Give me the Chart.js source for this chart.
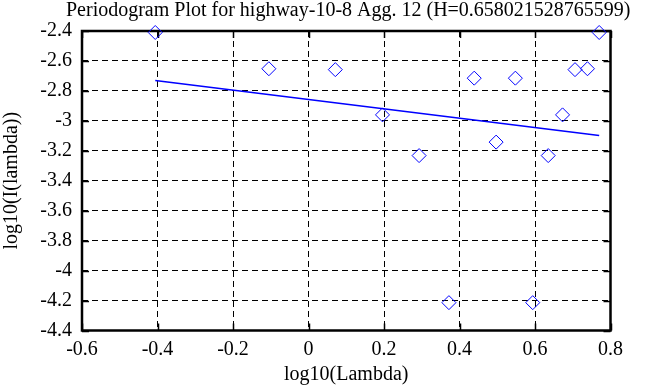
<!DOCTYPE html>
<html>
<head>
<meta charset="utf-8">
<script src="https://cdn.jsdelivr.net/npm/chart.js@4"></script>
<style>
  html, body { margin: 0; padding: 0; background: #fff; }
  #wrap { width: 668px; height: 387px; }
</style>
</head>
<body>
<div id="wrap"><canvas id="chart" width="668" height="387"></canvas></div>
<script>
// Periodogram punten (log10 frequentie, log10 intensiteit)
const logLambda = [-0.406, -0.105, 0.071, 0.196, 0.293, 0.372, 0.439, 0.497, 0.548, 0.594, 0.635, 0.673, 0.706, 0.739, 0.770];
const logPower = [-2.41, -2.652, -2.658, -2.96, -3.232, -4.214, -2.715, -3.142, -2.715, -4.214, -3.232, -2.96, -2.658, -2.652, -2.41];

// Regressielijn (begin- en eindpunt)
const fitX = [-0.406, 0.770];
const fitY = [-2.731, -3.098];

const xTicks = [-0.6, -0.4, -0.2, 0, 0.2, 0.4, 0.6, 0.8];
const yTicks = [-4.4, -4.2, -4, -3.8, -3.6, -3.4, -3.2, -3, -2.8, -2.6, -2.4];

const TITLE = 'Periodogram Plot for highway-10-8 Agg. 12 (H=0.658021528765599)';
const FONT = 'Liberation Serif, Times New Roman, serif';
const fmt = v => String(parseFloat(Number(v).toFixed(1)));

// Kader met korte streepjes aan de binnenkant (onder de punten getekend)
const framePlugin = {
    id: 'frame',
    beforeDatasetsDraw(chart) {
        const { ctx, chartArea: a, scales } = chart;
        ctx.save();
        ctx.strokeStyle = '#000';
        ctx.lineWidth = 1.5;
        ctx.setLineDash([]);
        yTicks.forEach(t => {
            const y = Math.round(scales.y.getPixelForValue(t)) + 0.5;
            ctx.beginPath();
            ctx.moveTo(a.left, y); ctx.lineTo(a.left + 7, y);
            ctx.moveTo(a.right, y); ctx.lineTo(a.right - 7, y);
            ctx.stroke();
        });
        xTicks.forEach(t => {
            const x = Math.round(scales.x.getPixelForValue(t)) + 0.5;
            ctx.beginPath();
            ctx.moveTo(x, a.bottom); ctx.lineTo(x, a.bottom - 7);
            ctx.moveTo(x, a.top); ctx.lineTo(x, a.top + 7);
            ctx.stroke();
        });
        ctx.lineWidth = 2.5;
        ctx.strokeRect(a.left, a.top, a.right - a.left, a.bottom - a.top);
        ctx.restore();
    },
    // Titel gecentreerd boven het plotgebied
    afterDraw(chart) {
        const { ctx, chartArea: a } = chart;
        ctx.save();
        ctx.fillStyle = '#000';
        ctx.font = '20px ' + FONT;
        ctx.textAlign = 'center';
        ctx.textBaseline = 'middle';
        ctx.fillText(TITLE, (a.left + a.right) / 2 + 2, 11);
        ctx.restore();
    }
};

const ctx = document.getElementById('chart').getContext('2d');
const chart = new Chart(ctx, {
    type: 'scatter',
    data: {
        datasets: [{
            type: 'line',
            data: fitX.map((x, i) => ({ x: x, y: fitY[i] })),
            borderColor: '#0000ff',
            borderWidth: 1.5,
            pointRadius: 0,
            fill: false,
            clip: false,
            order: 1
        }, {
            data: logLambda.map((x, i) => ({ x: x, y: logPower[i] })),
            pointStyle: 'rectRot',
            pointRadius: 7,
            pointHoverRadius: 7,
            borderColor: '#0000ff',
            backgroundColor: 'rgba(0,0,0,0)',
            borderWidth: 1,
            clip: false,
            order: 0
        }]
    },
    options: {
        responsive: false,
        animation: false,
        events: [],
        layout: { padding: { left: 0, right: 57.5, top: 31, bottom: 0 } },
        plugins: {
            legend: { display: false },
            tooltip: { enabled: false },
            title: { display: false }
        },
        scales: {
            x: {
                type: 'linear',
                min: -0.6,
                max: 0.8,
                afterBuildTicks: s => { s.ticks = xTicks.map(v => ({ value: v })); },
                afterFit: s => { s.height = 56.5; },
                grid: { color: '#000', lineWidth: 1, drawTicks: false },
                border: { display: false, dash: [6, 4] },
                ticks: {
                    color: '#000',
                    padding: 7,
                    font: { family: FONT, size: 20 },
                    callback: fmt
                },
                title: {
                    display: true,
                    text: 'log10(Lambda)',
                    color: '#000',
                    font: { family: FONT, size: 20 },
                    padding: { top: 0, bottom: 0 }
                }
            },
            y: {
                type: 'linear',
                min: -4.4,
                max: -2.4,
                afterBuildTicks: s => { s.ticks = yTicks.map(v => ({ value: v })); },
                afterFit: s => { s.width = 82; },
                grid: { color: '#000', lineWidth: 1, drawTicks: false },
                border: { display: false, dash: [6, 4] },
                ticks: {
                    color: '#000',
                    padding: 10,
                    font: { family: FONT, size: 20 },
                    callback: fmt
                },
                title: {
                    display: true,
                    text: 'log10(I(lambda))',
                    color: '#000',
                    font: { family: FONT, size: 20 },
                    padding: { top: 0, bottom: 4 }
                }
            }
        }
    },
    plugins: [framePlugin]
});
</script>
</body>
</html>
